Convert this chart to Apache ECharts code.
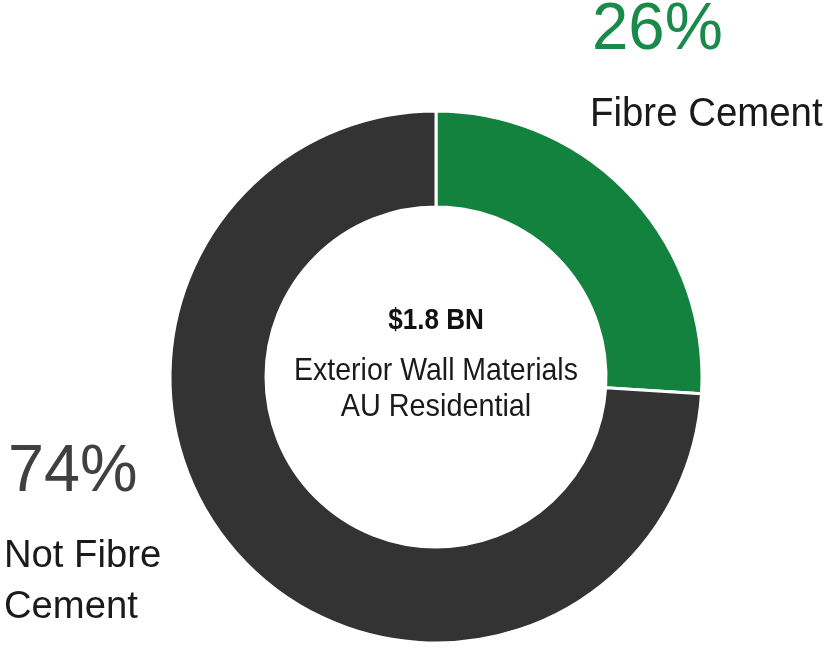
<!DOCTYPE html>
<html>
<head>
<meta charset="utf-8">
<script src="https://cdn.jsdelivr.net/npm/echarts@6/dist/echarts.min.js"></script>
<style>
html,body{margin:0;padding:0;background:#fff;}
#c{width:830px;height:649px;}
</style>
</head>
<body>
<div id="c"></div>
<script>
// Data
const categories = ['Fibre Cement', 'Not Fibre Cement'];
const values = [26, 74];
const colors = ['#13823f', '#333333'];
const totalLabel = '$1.8 BN';
const centerLines = ['Exterior Wall Materials', 'AU Residential'];

const chart = echarts.init(document.getElementById('c'), null, {renderer: 'canvas'});
const total = values.reduce((a, b) => a + b, 0);
const pct = values.map(v => Math.round(v / total * 100) + '%');
const FONT = '"Liberation Sans", Arial, sans-serif';

function txt(text, x, y, size, opts) {
  opts = opts || {};
  return {
    type: 'text', x: x, y: y, scaleX: opts.scaleX || 1, silent: true,
    style: {
      x: 0, y: 0, text: text,
      font: (opts.weight || 'normal') + ' ' + size + 'px ' + FONT,
      fill: opts.fill || '#1a1a1a',
      align: opts.align || 'left',
      verticalAlign: 'middle'
    }
  };
}

chart.setOption({
  animation: false,
  backgroundColor: '#ffffff',
  series: [{
    type: 'pie',
    center: [436, 377],
    radius: [170, 266],
    startAngle: 90,
    clockwise: true,
    label: {show: false},
    labelLine: {show: false},
    emphasis: {disabled: true},
    itemStyle: {borderColor: '#ffffff', borderWidth: 3},
    data: categories.map((c, i) => ({name: c, value: values[i], itemStyle: {color: colors[i]}}))
  }],
  graphic: [
    txt(pct[0], 592, 31, 66, {fill: '#1a8a4a', scaleX: 0.99}),
    txt(categories[0], 590, 115, 40, {scaleX: 0.96}),
    txt(pct[1], 8, 473, 66, {fill: '#404040', scaleX: 0.98}),
    txt('Not Fibre', 4, 556, 39, {scaleX: 0.98}),
    txt('Cement', 4, 607, 39, {scaleX: 0.98}),
    txt(totalLabel, 436, 321, 30, {weight: 'bold', align: 'center', scaleX: 0.87, fill: '#111'}),
    txt(centerLines[0], 436, 371, 32, {align: 'center', scaleX: 0.89}),
    txt(centerLines[1], 436, 407, 32, {align: 'center', scaleX: 0.9})
  ]
});
</script>
</body>
</html>
